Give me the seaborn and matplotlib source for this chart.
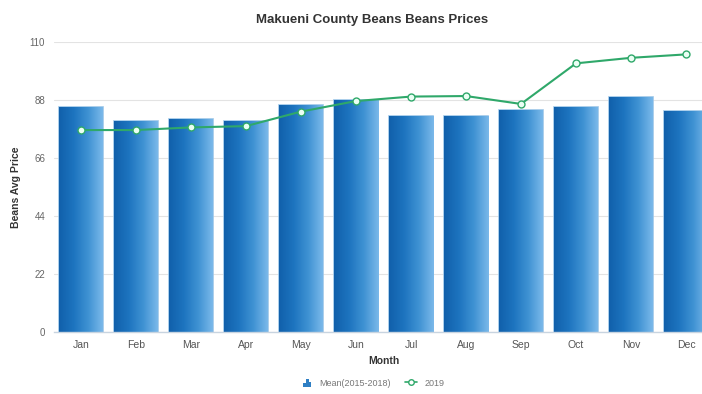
import numpy as np
import pandas as pd
import matplotlib
matplotlib.use("Agg")
import matplotlib.pyplot as plt
import seaborn as sns
from matplotlib.colors import LinearSegmentedColormap
from matplotlib.legend_handler import HandlerBase
from matplotlib.patches import Rectangle
from matplotlib.lines import Line2D

months = ["Jan", "Feb", "Mar", "Apr", "May", "Jun", "Jul", "Aug", "Sep", "Oct", "Nov", "Dec"]
mean_2015_2018 = [85.5, 80.2, 80.9, 80.2, 86.1, 88.0, 82.0, 82.0, 84.2, 85.5, 89.3, 84.0]
prices_2019 = [76.6, 76.6, 77.6, 78.1, 83.6, 87.6, 89.3, 89.5, 86.5, 101.9, 104.0, 105.3]
yticks = [0, 22, 44, 66, 88, 110]

df = pd.DataFrame({"Month": months, "Mean": mean_2015_2018, "Y2019": prices_2019})

sns.set_theme(style="white")
plt.rcParams['font.family'] = ['Liberation Sans', 'DejaVu Sans']

fig = plt.figure(figsize=(7.02, 3.94), dpi=100)
ax = fig.add_axes([53.5 / 702, 1 - 332 / 394, 660 / 702, 290 / 394])

sns.barplot(data=df, x="Month", y="Mean", ax=ax, color="#1f6fb8", width=0.8,
            edgecolor="#9cc6e8", linewidth=1.2, zorder=2)

cmap = LinearSegmentedColormap.from_list("g", ["#1160ab", "#1d74bf", "#3f92d3", "#7bb9ea"])
grad = np.linspace(0, 1, 256).reshape(1, -1)
for p in list(ax.patches):
    x0, y0 = p.get_x(), p.get_y()
    w, h = p.get_width(), p.get_height()
    im = ax.imshow(grad, extent=[x0, x0 + w, y0, y0 + h], aspect="auto",
                   cmap=cmap, zorder=2.5, origin="lower")
    im.set_clip_path(p)

line_color = "#2fa86a"
ax.plot(np.arange(len(months)), prices_2019, color=line_color, lw=1.5, zorder=3,
        marker="o", markersize=5, markerfacecolor="#eafff4", markeredgecolor=line_color,
        markeredgewidth=1.0)

ax.set_xlim(-0.5, 11.5)
ax.set_ylim(0, 110)
ax.set_yticks(yticks)
ax.set_yticklabels([str(t) for t in yticks], fontsize=7, color="#666666")
ax.tick_params(axis="x", labelsize=7.5, colors="#555555", length=0, pad=6)
ax.tick_params(axis="y", length=0, pad=6)
ax.grid(axis="y", color="#e3e3e3", lw=0.8, zorder=0)
ax.set_axisbelow(True)
for s in ["top", "right", "left"]:
    ax.spines[s].set_visible(False)
ax.spines["bottom"].set_color("#c8d4e0")
ax.spines["bottom"].set_linewidth(1.0)

ax.set_xlabel("Month", fontsize=7.5, fontweight="bold", color="#333333", labelpad=4)
ax.set_ylabel("Beans Avg Price", fontsize=7.5, fontweight="bold", color="#333333", labelpad=6)
fig.text(0.53, 1 - 20 / 394, "Makueni County Beans Beans Prices", ha="center", va="center",
         fontsize=9.5, fontweight="bold", color="#333333")


class BarIconHandler(HandlerBase):
    def create_artists(self, legend, orig_handle, xdescent, ydescent, width, height, fontsize, trans):
        arts = []
        bw = width / 4.0
        hs = [0.6, 1.2, 0.8]
        for i, hh in enumerate(hs):
            r = Rectangle((xdescent + width * 0.3 + i * bw * 0.9, -ydescent - 1), bw * 0.7, height * hh,
                          facecolor="#2f7fc4", edgecolor="none", transform=trans)
            arts.append(r)
        return arts


bar_handle = Rectangle((0, 0), 1, 1, facecolor="#2f7fc4")
line_handle = Line2D([], [], color=line_color, lw=1.2, marker="o", markersize=4,
                     markerfacecolor="white", markeredgecolor=line_color)
fig.legend([bar_handle, line_handle], ["Mean(2015-2018)", "2019"], loc="center",
           bbox_to_anchor=(0.53, 1 - 383 / 394), ncol=2, frameon=False, fontsize=6.5,
           handler_map={Rectangle: BarIconHandler()}, handlelength=1.4, columnspacing=1.5,
           labelcolor="#777777")

fig.savefig("out.png", dpi=100)
